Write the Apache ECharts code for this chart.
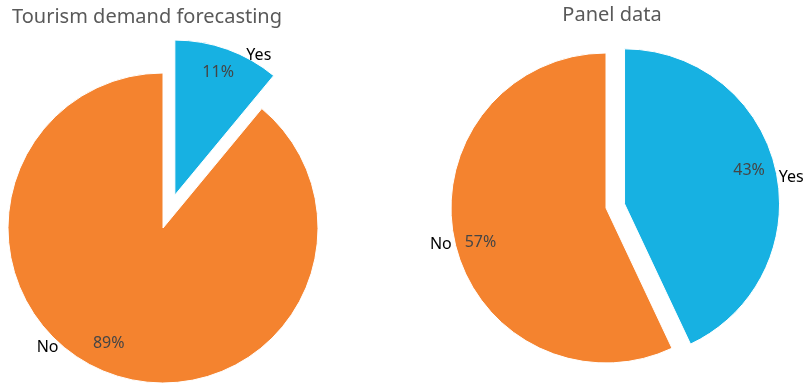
<!DOCTYPE html>
<html>
<head>
<meta charset="utf-8">
<script src="https://cdn.jsdelivr.net/npm/echarts@6/dist/echarts.min.js"></script>
<style>
  html, body { margin: 0; padding: 0; background: #fff; }
  #chart { width: 805px; height: 385px; }
</style>
</head>
<body>
<div id="chart"></div>
<script>
// data
const categories = ['Yes', 'No']
const tourismValues = [11, 89]
const panelValues = [43, 57]
const chartTitles = ['Tourism demand forecasting', 'Panel data']

const colors = ['#17b1e2', '#f4832f']
const font = 'Noto Sans'

// label nudges (per data index) relative to the default pie label spot
const pctNudge = [
  [[16, -47], [-27, 40]],
  [[46, -16], [-47, 17]]
]
const nameNudge = [
  [[14, 6], [-47, -26]],
  [[-2, 7], [2, 3]]
]

const pies = [
  { values: tourismValues, center: [163, 228], offset: 35 },
  { values: panelValues, center: [606, 208], offset: 19 }
]

const series = []
pies.forEach((p, pi) => {
  const data = categories.map((c, i) => ({
    name: c,
    value: p.values[i],
    selected: i === 0,
    itemStyle: { color: colors[i] }
  }))
  const base = {
    type: 'pie',
    center: p.center,
    radius: 155,
    startAngle: 90,
    clockwise: true,
    selectedMode: 'single',
    selectedOffset: p.offset,
    avoidLabelOverlap: false,
    silent: true,
    animation: false,
    emphasis: { disabled: true }
  }
  // visible pie with percent labels
  series.push(Object.assign({}, base, {
    data: data,
    itemStyle: { borderColor: '#fff', borderWidth: 1 },
    label: {
      show: true,
      position: 'inside',
      formatter: '{c}%',
      fontFamily: font,
      fontSize: 16,
      color: '#454545'
    },
    labelLayout: (params) => ({
      dx: pctNudge[pi][params.dataIndex][0],
      dy: pctNudge[pi][params.dataIndex][1]
    })
  }))
  // transparent copy carrying the category names
  series.push(Object.assign({}, base, {
    data: data.map(d => Object.assign({}, d, { itemStyle: { color: 'rgba(0,0,0,0)' } })),
    label: {
      show: true,
      position: 'outside',
      formatter: '{b}',
      fontFamily: font,
      fontSize: 16,
      color: '#000'
    },
    labelLine: { show: false, length: 0, length2: 0 },
    labelLayout: (params) => ({
      dx: nameNudge[pi][params.dataIndex][0],
      dy: nameNudge[pi][params.dataIndex][1]
    })
  }))
})

const chart = echarts.init(document.getElementById('chart'))
chart.setOption({
  animation: false,
  title: [
    {
      text: chartTitles[0],
      left: 7,
      top: 2,
      textStyle: { fontFamily: font, fontSize: 20, fontWeight: 'normal', color: '#595959' }
    },
    {
      text: chartTitles[1],
      left: 607,
      top: 0,
      textAlign: 'center',
      textStyle: { fontFamily: font, fontSize: 20, fontWeight: 'normal', color: '#595959' }
    }
  ],
  series: series
})
</script>
</body>
</html>
